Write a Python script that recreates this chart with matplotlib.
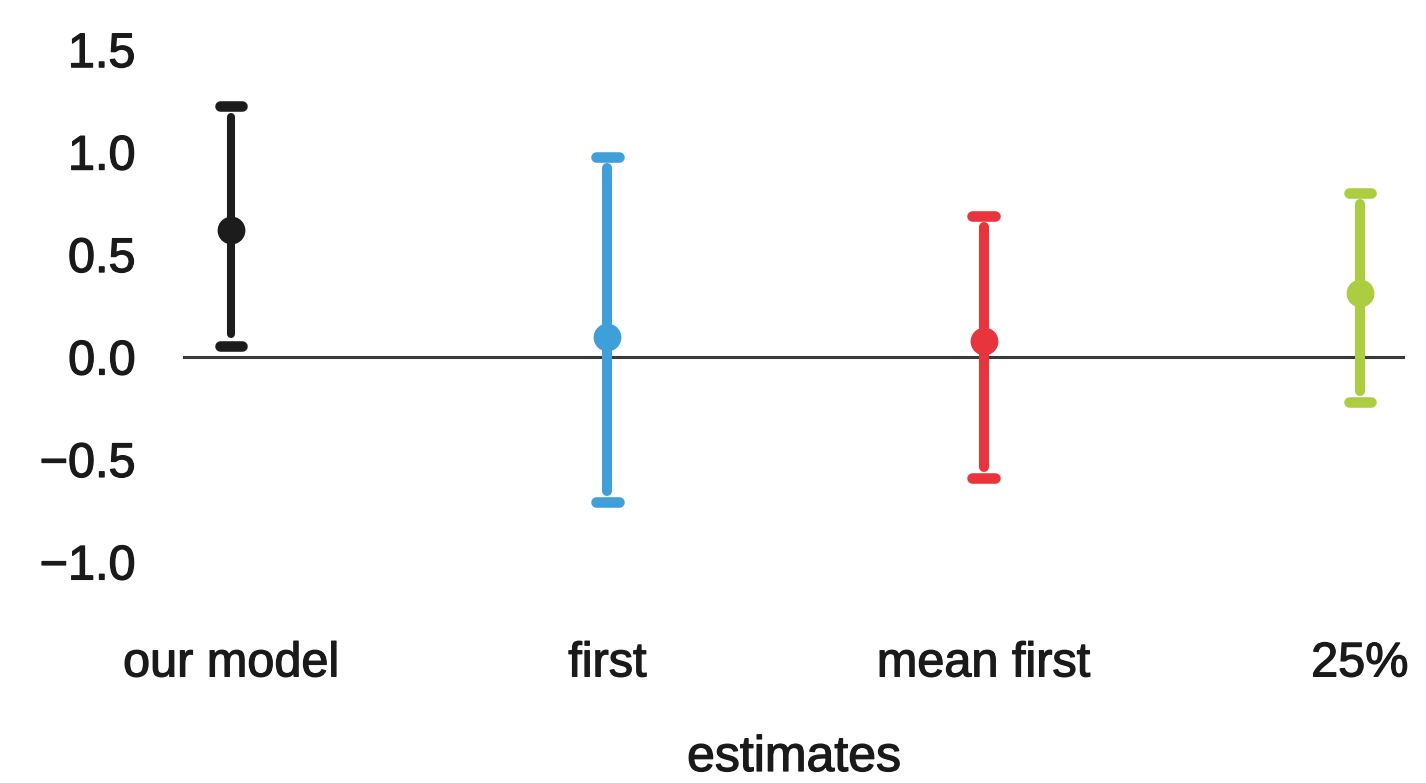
import matplotlib.pyplot as plt
import matplotlib.patheffects as pe

# estimates with their intervals
labels = ["our model", "first", "mean first", "25%"]
estimate = [0.62, 0.10, 0.08, 0.31]
lower = [0.055, -0.71, -0.59, -0.22]
upper = [1.225, 0.975, 0.69, 0.80]
colors = ["#1c1c1c", "#3f9fd8", "#e8343c", "#abcd3f"]
widths = [5.8, 7.2, 7.2, 7.2]

plt.rcParams["font.family"] = ["Liberation Sans", "DejaVu Sans"]
text_color = "#1a1a1a"
heavy = [pe.withStroke(linewidth=0.9, foreground=text_color)]

fig = plt.figure(figsize=(14.26, 7.83), dpi=100)
ax = fig.add_axes([0.1283, 0.2465, 0.857, 0.715])

ax.axhline(0, color="#3a3a3a", lw=2.2, zorder=1)

xs = range(1, len(labels) + 1)
gap = 0.055   # small space between whisker and cap
half = 0.03   # half width of the caps
for x, m, lo, hi, c, w in zip(xs, estimate, lower, upper, colors, widths):
    ax.vlines(x, lo + gap, hi - gap, color=c, lw=w, capstyle="round", zorder=2)
    ax.hlines([lo, hi], x - half, x + half, color=c, lw=7.6,
              capstyle="round", zorder=2)
    ax.plot(x, m, "o", color=c, ms=19, mec=c, zorder=3)

ax.set_xlim(0.872, 4.12)
ax.set_ylim(-1.137, 1.595)
ax.set_xticks(list(xs))
ax.set_xticklabels(labels)
ax.set_yticks([-1.0, -0.5, 0.0, 0.5, 1.0, 1.5])
ax.set_yticklabels(["\u22121.0", "\u22120.5", "0.0", "0.5", "1.0", "1.5"])
ax.tick_params(axis="both", length=0, labelsize=35, colors=text_color)
ax.tick_params(axis="y", pad=34)
ax.tick_params(axis="x", pad=37)
ax.set_xlabel("estimates", fontsize=36, color=text_color, labelpad=35)

for lab in ax.get_xticklabels() + ax.get_yticklabels() + [ax.xaxis.label]:
    lab.set_path_effects(heavy)

for s in ax.spines.values():
    s.set_visible(False)

fig.savefig("out.png", dpi=100)
